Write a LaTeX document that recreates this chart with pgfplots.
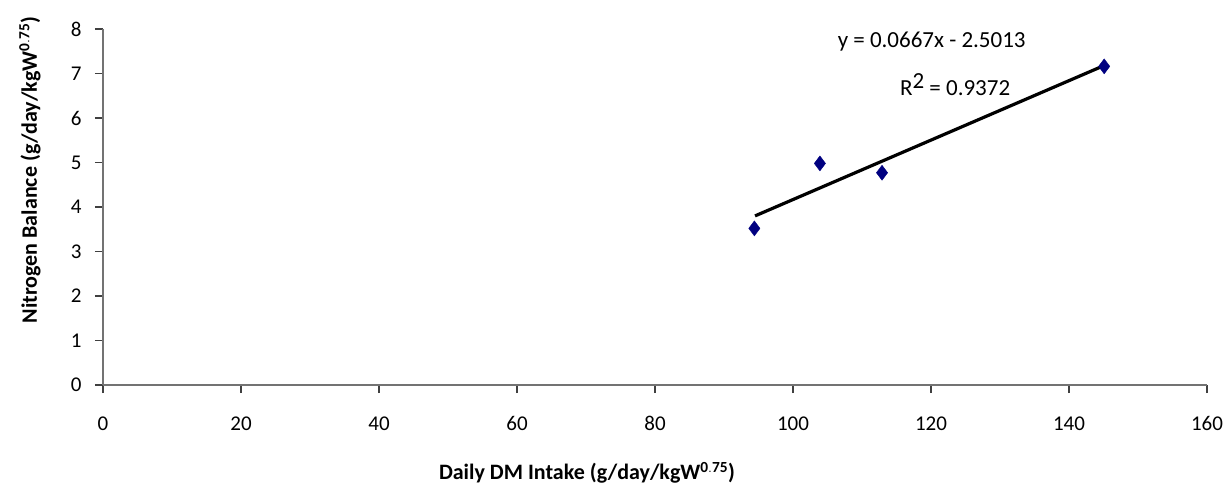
\documentclass[border=0pt]{standalone}
\usepackage{pgfplots}
\pgfplotsset{compat=1.18}
\usepackage{fontspec}
\setmainfont{Carlito}
\definecolor{navy}{RGB}{0,0,128}
\definecolor{axgray}{RGB}{115,115,115}
\begin{document}
\begin{tikzpicture}
\begin{axis}[
  scale only axis,
  width=1104bp, height=356bp,
  xmin=0, xmax=160, ymin=0, ymax=8,
  xtick={0,20,...,160}, ytick={0,1,...,8},
  axis x line=bottom, axis y line=left,
  axis line style={axgray, line width=2.4bp, -},
  tick style={black!75, line width=1.6bp},
  tick align=outside,
  major tick length=8bp,
  /pgf/number format/assume math mode=true,
  ticklabel style={font=\fontsize{21bp}{25bp}\selectfont},
  xticklabel style={yshift=-20bp},
  yticklabel style={xshift=-10bp},
  xlabel={\textbf{Daily DM Intake (g/day/kgW$^{\mathbf{0.75}}$)}},
  ylabel={\textbf{Nitrogen Balance (g/day/kgW$^{\mathbf{0.75}}$)}},
  label style={font=\fontsize{22bp}{26bp}\selectfont},
  xlabel style={at={(axis description cs:0.5,0)}, anchor=center, yshift=-88bp, xshift=-68bp},
  ylabel style={at={(axis description cs:0,0.5)}, anchor=center, yshift=73bp, xshift=37bp},
  clip=false,
]
\addplot[only marks, mark=diamond*, mark size=7.5bp, color=navy] coordinates {
  (94.4,3.52) (103.9,4.98) (112.9,4.77) (145.1,7.16)
};
\addplot[black, line width=3.2bp] coordinates {(94.5,3.80) (145.1,7.18)};
\node[font=\fontsize{23bp}{27bp}\selectfont] at (axis cs:120.1,7.71) {y = 0.0667x - 2.5013};
\node[font=\fontsize{23bp}{27bp}\selectfont] at (axis cs:123.5,6.74) {R\raisebox{0.3em}{2} = 0.9372};
\end{axis}
\pgfresetboundingbox
\path (-103bp,-104bp) rectangle (1128bp,385bp);
\end{tikzpicture}
\end{document}
